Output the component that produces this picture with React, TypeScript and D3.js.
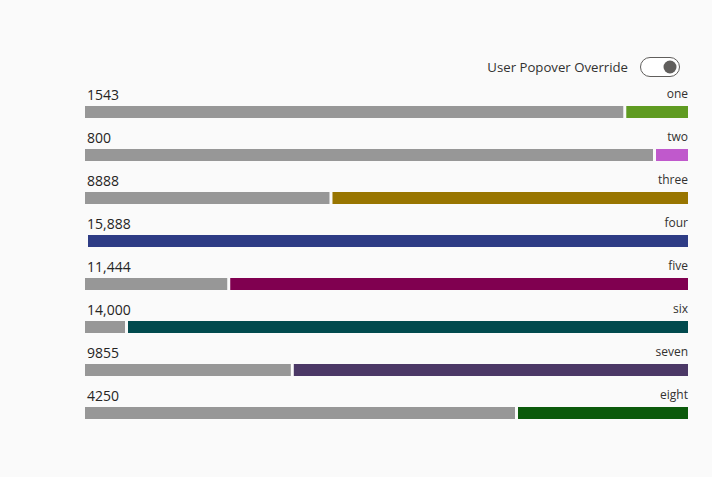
import React from "react";
import * as d3 from "d3";

const categories = ["one", "two", "three", "four", "five", "six", "seven", "eight"];
const values = [1543, 800, 8888, 15888, 11444, 14000, 9855, 4250];
const valueLabels = ["1543", "800", "8888", "15,888", "11,444", "14,000", "9855", "4250"];
const totals = [15000, 15000, 15000, 15000, 15000, 15000, 15000, 15000];
const colors = ["#5f9b21", "#c059cc", "#987500", "#2e3c85", "#800050", "#014a4e", "#4b3866", "#0b5a0b"];

const W = 712;
const H = 477;
const FONT = "'Segoe UI', 'Open Sans', 'Noto Sans', sans-serif";

export default function App() {
  const x0 = 85;
  const x1 = 688;
  const gap = 3;
  const barH = 12;
  const step = 43;
  const y = d3
    .scaleBand<string>()
    .domain(categories)
    .range([75, 75 + step * categories.length])
    .paddingInner(0)
    .paddingOuter(0);
  const frac = d3.scaleLinear().domain([0, 1]).range([0, x1 - x0 - gap]).clamp(true);

  return (
    <svg width={W} height={H} style={{ position: "absolute", left: 0, top: 0, background: "#fafafa", fontFamily: FONT }}>
      <rect x={0} y={0} width={W} height={H} fill="#fafafa" />
      <text x={628} y={72} textAnchor="end" fontSize={13.2} fill="#323130">User Popover Override</text>
      <rect x={640.5} y={57.5} width={39} height={19} rx={9.5} fill="#ffffff" stroke="#605e5c" strokeWidth={1} />
      <circle cx={670} cy={67} r={6.5} fill="#605e5c" />
      {categories.map((c, i) => {
        const bandY = y(c)!;
        const barY = bandY + y.bandwidth() - barH;
        const colW = frac(values[i] / totals[i]);
        const colX = x1 - colW;
        const greyW = Math.max(0, colX - gap - x0);
        return (
          <g key={c}>
            <text x={87} y={barY - 6} fontSize={14} fill="#252423">{valueLabels[i]}</text>
            <text x={x1} y={barY - 8} fontSize={12} textAnchor="end" fill="#323130">{c}</text>
            {greyW > 0 && <rect x={x0} y={barY} width={greyW} height={barH} fill="#979797" />}
            <rect x={colX} y={barY} width={colW} height={barH} fill={colors[i]} />
          </g>
        );
      })}
    </svg>
  );
}
